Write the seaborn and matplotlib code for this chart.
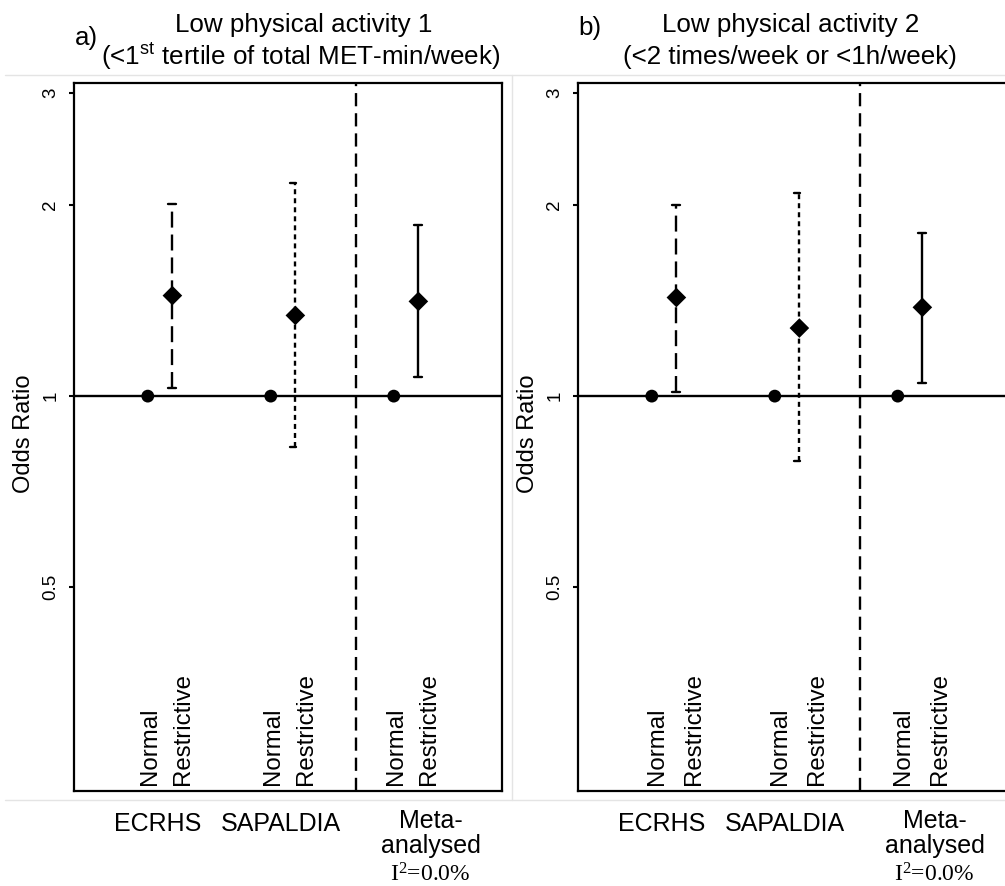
import numpy as np
import pandas as pd
import matplotlib
matplotlib.use("Agg")
import matplotlib.pyplot as plt
import matplotlib.transforms as mtransforms
from matplotlib.ticker import NullLocator
from matplotlib.lines import Line2D
import seaborn as sns

# ---------------- data ----------------
groups = ["ECRHS", "SAPALDIA", "Meta-analysed"]
categories = ["Normal", "Restrictive"]
ref_or = [1.0, 1.0, 1.0]

# panel a) Low physical activity 1
or_a = [1.44, 1.34, 1.41]
lo_a = [1.03, 0.83, 1.07]
hi_a = [2.01, 2.17, 1.86]

# panel b) Low physical activity 2
or_b = [1.43, 1.28, 1.38]
lo_b = [1.015, 0.79, 1.05]
hi_b = [2.00, 2.09, 1.81]

yticks = [0.5, 1, 2, 3]
ytick_labels = ["0.5", "1", "2", "3"]
i2_text = "I$^2$=0.0%"

tag_a, title1_a, title2_a = "a)", "Low physical activity 1", "(<1$^{st}$ tertile of total MET-min/week)"
tag_b, title1_b, title2_b = "b)", "Low physical activity 2", "(<2 times/week or <1h/week)"

# ---------------- style ----------------
sns.set_style("white")
plt.rcParams["font.family"] = ["Liberation Sans", "DejaVu Sans"]
plt.rcParams["mathtext.default"] = "regular"
plt.rcParams["lines.scale_dashes"] = False
for k in ["text.color", "axes.labelcolor", "xtick.color", "ytick.color", "axes.edgecolor"]:
    plt.rcParams[k] = "black"

W, H = 1005, 886
fig = plt.figure(figsize=(W / 100, H / 100), dpi=100)
fig.patch.set_facecolor("white")


def rect(l, t, r, b):
    return [l / W, 1 - b / H, (r - l) / W, (b - t) / H]


# faint frame lines of the original image
for (x0, y0, x1, y1) in [(5, 75, 1005, 75), (5, 800, 1005, 800), (512, 75, 512, 800)]:
    fig.add_artist(Line2D([x0 / W, x1 / W], [1 - y0 / H, 1 - y1 / H],
                          color="#e4e4e4", lw=1, transform=fig.transFigure, zorder=0))

ax_a = fig.add_axes(rect(74, 83, 502, 791))
ax_b = fig.add_axes(rect(578, 83, 1006, 791))

bar_dashes = [(11.5, 5.0), (3.6, 2.9), None]
cap_extent = [(-0.033, 0.033), (-0.045, 0.004), (-0.033, 0.033)]
LW = 1.7


def draw_panel(ax, ors, los, his, lab_off):
    n = len(groups)
    gx = np.arange(n)
    df = pd.DataFrame({
        "x": np.concatenate([gx - 0.1, gx + 0.1]),
        "OR": np.concatenate([ref_or, ors]),
        "category": np.repeat(categories, n),
    })
    ax.axhline(1, color="black", lw=LW, zorder=1)
    ax.axvline(1.59, color="black", lw=LW, dashes=(9.5, 5.0), zorder=1)
    for i in range(n):
        xr = gx[i] + 0.1
        kw = dict(color="black", lw=LW, zorder=2, solid_capstyle="butt")
        if bar_dashes[i] is None:
            ax.plot([xr, xr], [los[i], his[i]], **kw)
        else:
            ax.plot([xr, xr], [los[i], his[i]], dashes=bar_dashes[i], **kw)
        c0, c1 = cap_extent[i]
        for yv in (los[i], his[i]):
            ax.plot([xr + c0, xr + c1], [yv, yv], color="black", lw=LW, zorder=2)
    sns.scatterplot(data=df, x="x", y="OR", style="category", size="category",
                    markers={"Normal": "o", "Restrictive": "D"},
                    sizes={"Normal": 85, "Restrictive": 100},
                    color="black", edgecolor="black", linewidth=0,
                    legend=False, ax=ax, zorder=3)

    ax.set_yscale("log")
    ax.set_ylim(0.2387, 3.114)
    ax.set_xlim(-0.70, 2.78)
    ax.set_yticks(yticks)
    ax.set_yticklabels(ytick_labels, rotation=90, va="center")
    ax.yaxis.set_minor_locator(NullLocator())
    ax.tick_params(axis="y", left=True, length=3.6, width=1.5, pad=7,
                   labelsize=13.5, direction="out", color="black")
    ax.set_xticks([])
    ax.set_xlabel("")
    ax.set_ylabel("Odds Ratio", fontsize=17, va="center")
    ax.yaxis.set_label_coords(-0.117, 0.504)
    for sp in ax.spines.values():
        sp.set_visible(True)
        sp.set_linewidth(1.6)
        sp.set_color("black")

    tin = mtransforms.blended_transform_factory(ax.transData, ax.transAxes)
    for i in gx:
        ax.text(i + lab_off[0], 0.008, categories[0], transform=tin, rotation=90,
                ha="center", va="bottom", fontsize=17.3)
        ax.text(i + lab_off[1], 0.008, categories[1], transform=tin, rotation=90,
                ha="center", va="bottom", fontsize=17.3)

    tout = mtransforms.blended_transform_factory(ax.transData, fig.transFigure)
    ax.text(gx[0] - 0.02, 1 - 824 / H, groups[0], transform=tout, ha="center", va="center", fontsize=18)
    ax.text(gx[1] - 0.02, 1 - 824 / H, groups[1], transform=tout, ha="center", va="center", fontsize=18)
    ax.text(gx[2] + 0.2, 1 - 821 / H, "Meta-", transform=tout, ha="center", va="center", fontsize=18)
    ax.text(gx[2] + 0.2, 1 - 846 / H, "analysed", transform=tout, ha="center", va="center", fontsize=18)
    ax.text(gx[2] + 0.2, 1 - 875 / H, i2_text, transform=tout, ha="center", va="center",
            fontsize=17, family=["Liberation Serif", "DejaVu Serif"])


draw_panel(ax_a, or_a, lo_a, hi_a, (-0.08, 0.19))
draw_panel(ax_b, or_b, lo_b, hi_b, (-0.055, 0.24))

# titles
fig.text(75 / W, 1 - 38 / H, tag_a, ha="left", va="center", fontsize=18.7)
fig.text(304 / W, 1 - 25 / H, title1_a, ha="center", va="center", fontsize=18.7)
fig.text(301 / W, 1 - 57 / H, title2_a, ha="center", va="center", fontsize=18.7)
fig.text(578 / W, 1 - 28 / H, tag_b, ha="left", va="center", fontsize=18.7)
fig.text(791 / W, 1 - 25 / H, title1_b, ha="center", va="center", fontsize=18.7)
fig.text(790 / W, 1 - 57 / H, title2_b, ha="center", va="center", fontsize=18.7)

fig.savefig("out.png", dpi=100, facecolor="white")
